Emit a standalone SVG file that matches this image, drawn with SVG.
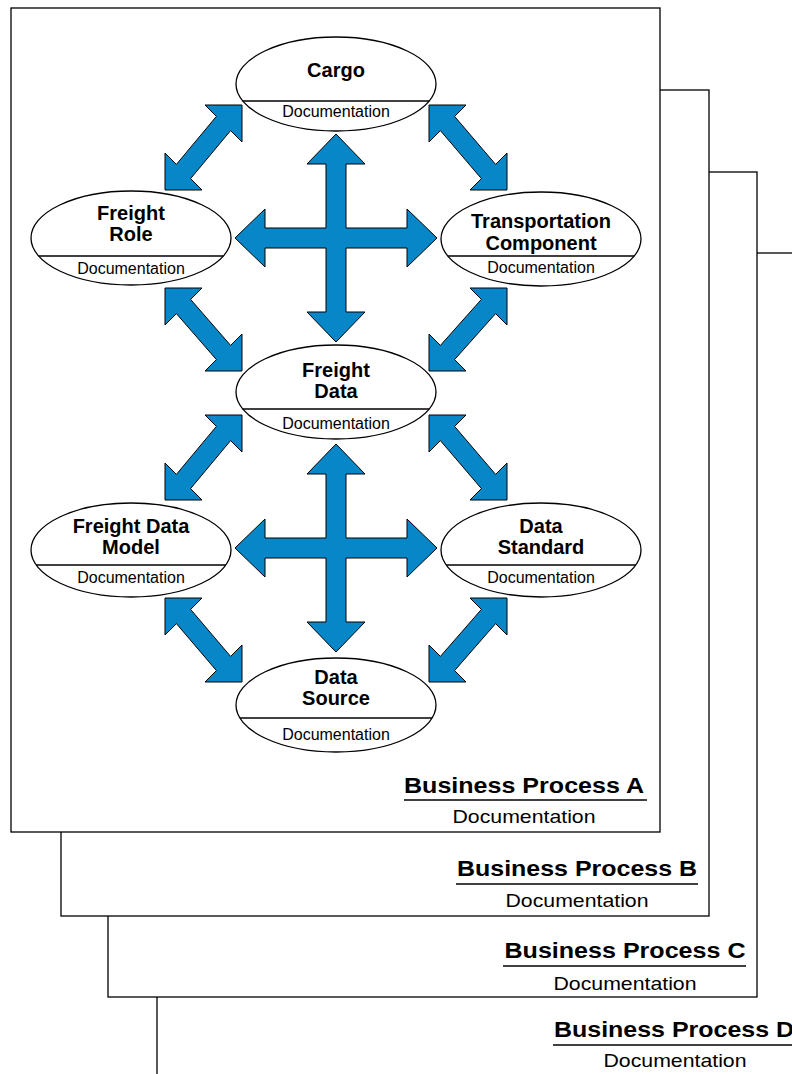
<svg xmlns="http://www.w3.org/2000/svg" width="792" height="1074" viewBox="0 0 792 1074">
<style>
.page{fill:#fff;stroke:#000;stroke-width:1.3}
.ell{fill:#fff;stroke:#000;stroke-width:1.3}
.div{stroke:#000;stroke-width:1.3}
.arr{fill:#0787c8;stroke:#000;stroke-width:1;stroke-linejoin:miter}
.t{font-family:"Liberation Sans",Arial,sans-serif;font-weight:bold;font-size:20px;text-anchor:middle;fill:#000}
.d{font-family:"Liberation Sans",Arial,sans-serif;font-size:16px;text-anchor:middle;fill:#000}
.bp{font-family:"Liberation Sans",Arial,sans-serif;font-weight:bold;font-size:22px;text-anchor:middle;fill:#000}
.bd{font-family:"Liberation Sans",Arial,sans-serif;font-size:19px;text-anchor:middle;fill:#000}
.ul{stroke:#000;stroke-width:1.3}
</style>
<g id="page-d">
<rect class="page" x="157" y="253" width="700" height="900"/>
<text class="bp" x="674" y="1037" textLength="240" lengthAdjust="spacingAndGlyphs">Business Process D</text>
<line class="ul" x1="553" y1="1045" x2="800" y2="1045"/>
<text class="bd" x="675" y="1067" textLength="143" lengthAdjust="spacingAndGlyphs">Documentation</text>
</g>
<g id="page-c">
<rect class="page" x="108" y="172" width="649" height="825"/>
<text class="bp" x="625" y="958" textLength="241" lengthAdjust="spacingAndGlyphs">Business Process C</text>
<line class="ul" x1="503" y1="966" x2="746" y2="966"/>
<text class="bd" x="625" y="990" textLength="143" lengthAdjust="spacingAndGlyphs">Documentation</text>
</g>
<g id="page-b">
<rect class="page" x="61" y="90" width="648" height="826"/>
<text class="bp" x="577" y="876" textLength="240" lengthAdjust="spacingAndGlyphs">Business Process B</text>
<line class="ul" x1="456" y1="884" x2="698" y2="884"/>
<text class="bd" x="577" y="907" textLength="143" lengthAdjust="spacingAndGlyphs">Documentation</text>
</g>
<g id="page-a">
<rect class="page" x="11" y="8" width="649" height="824"/>
<text class="bp" x="524" y="793" textLength="240" lengthAdjust="spacingAndGlyphs">Business Process A</text>
<line class="ul" x1="404" y1="800" x2="647" y2="800"/>
<text class="bd" x="524" y="823" textLength="143" lengthAdjust="spacingAndGlyphs">Documentation</text>
</g>
<g id="connectors">
<polygon class="arr" points="336,134 365,164 346,164 346,228 407,228 407,209 437,238 407,267 407,248 346,248 346,312 365,312 336,342 307,312 326,312 326,248 265,248 265,267 235,238 265,209 265,228 326,228 326,164 307,164"/>
<polygon class="arr" points="336,444 365,474 346,474 346,538 407,538 407,519 437,548 407,577 407,558 346,558 346,622 365,622 336,652 307,622 326,622 326,558 265,558 265,577 235,548 265,519 265,538 326,538 326,474 307,474"/>
<polygon class="arr" points="242,105 242,142 230.6,130.6 190.6,178.6 202,190 165,190 165,153 176.4,164.4 216.4,116.4 205,105"/>
<polygon class="arr" points="429,105 466,105 454.6,116.4 495.6,164.4 507,153 507,190 470,190 481.4,178.6 440.4,130.6 429,142"/>
<polygon class="arr" points="165,288 202,288 190.6,299.4 230.6,345.4 242,334 242,371 205,371 216.4,359.6 176.4,313.6 165,325"/>
<polygon class="arr" points="507,288 507,325 495.6,313.6 454.6,359.6 466,371 429,371 429,334 440.4,345.4 481.4,299.4 470,288"/>
<polygon class="arr" points="242,415 242,452 230.6,440.6 190.6,488.6 202,500 165,500 165,463 176.4,474.4 216.4,426.4 205,415"/>
<polygon class="arr" points="429,415 466,415 454.6,426.4 495.6,474.4 507,463 507,500 470,500 481.4,488.6 440.4,440.6 429,452"/>
<polygon class="arr" points="165,598 202,598 190.6,609.4 230.6,656.4 242,645 242,682 205,682 216.4,670.6 176.4,623.6 165,635"/>
<polygon class="arr" points="507,598 507,635 495.6,623.6 454.6,670.6 466,682 429,682 429,645 440.4,656.4 481.4,609.4 470,598"/>
</g>
<g id="cargo">
<ellipse class="ell" cx="336" cy="84" rx="100" ry="47"/>
<line class="div" x1="242.8" y1="101" x2="429.2" y2="101"/>
<text class="t" x="336" y="77">Cargo</text>
<text class="d" x="336" y="117">Documentation</text>
</g>
<g id="freight-role">
<ellipse class="ell" cx="131" cy="238" rx="100" ry="47"/>
<line class="div" x1="38.6" y1="256" x2="223.4" y2="256"/>
<text class="t" x="131" y="220">Freight</text>
<text class="t" x="131" y="241">Role</text>
<text class="d" x="131" y="274">Documentation</text>
</g>
<g id="transportation-component">
<ellipse class="ell" cx="541" cy="239" rx="100" ry="47"/>
<line class="div" x1="447.8" y1="256" x2="634.2" y2="256"/>
<text class="t" x="541" y="228">Transportation</text>
<text class="t" x="541" y="250">Component</text>
<text class="d" x="541" y="273">Documentation</text>
</g>
<g id="freight-data">
<ellipse class="ell" cx="336" cy="392" rx="100" ry="47"/>
<line class="div" x1="242.8" y1="409" x2="429.2" y2="409"/>
<text class="t" x="336" y="377">Freight</text>
<text class="t" x="336" y="398">Data</text>
<text class="d" x="336" y="429">Documentation</text>
</g>
<g id="freight-data-model">
<ellipse class="ell" cx="131" cy="550" rx="100" ry="47"/>
<line class="div" x1="36.2" y1="565" x2="225.8" y2="565"/>
<text class="t" x="131" y="533">Freight Data</text>
<text class="t" x="131" y="554">Model</text>
<text class="d" x="131" y="583">Documentation</text>
</g>
<g id="data-standard">
<ellipse class="ell" cx="541" cy="550" rx="100" ry="47"/>
<line class="div" x1="446.2" y1="565" x2="635.8" y2="565"/>
<text class="t" x="541" y="533">Data</text>
<text class="t" x="541" y="554">Standard</text>
<text class="d" x="541" y="583">Documentation</text>
</g>
<g id="data-source">
<ellipse class="ell" cx="336" cy="705" rx="100" ry="47"/>
<line class="div" x1="240" y1="718" x2="432" y2="718"/>
<text class="t" x="336" y="684">Data</text>
<text class="t" x="336" y="705">Source</text>
<text class="d" x="336" y="740">Documentation</text>
</g>
</svg>
